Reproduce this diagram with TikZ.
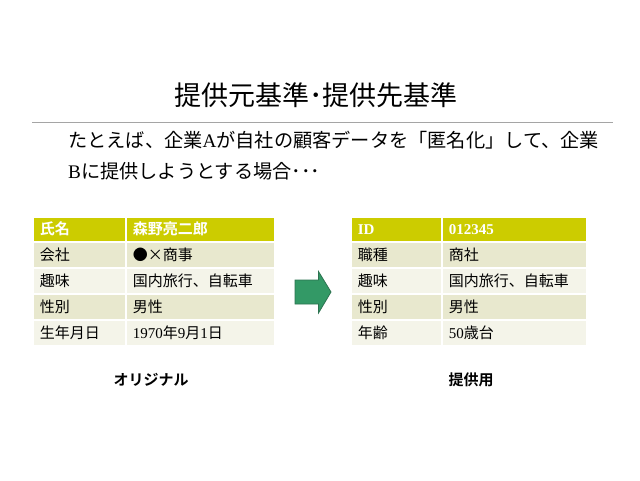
\documentclass[tikz,border=0pt]{standalone}
\usepackage{fontspec}
\setmainfont{Liberation Serif}
\newfontfamily\jp{Noto Sans CJK JP}[BoldFont={Noto Sans CJK JP Bold}]
\definecolor{hdr}{RGB}{204,204,0}
\definecolor{rowA}{RGB}{232,232,206}
\definecolor{rowB}{RGB}{244,244,233}
\definecolor{arrowfill}{RGB}{51,153,102}
\definecolor{arrowline}{RGB}{45,115,80}
\definecolor{rulegray}{RGB}{165,165,165}
\tikzset{
  cell/.style={anchor=north west, draw=white, line width=1.5pt, inner xsep=7pt, inner ysep=0pt,
    align=left, font=\fontsize{15}{18}\selectfont\jp},
  hcell/.style={cell, fill=hdr, text=white, minimum height=25pt, font=\fontsize{15}{18}\selectfont\bfseries\jp},
  acell/.style={cell, fill=rowA, minimum height=26pt},
  bcell/.style={cell, fill=rowB, minimum height=26pt},
  lk/.style={text width=79pt},
  lv/.style={text width=135pt},
  rk/.style={text width=77pt},
  rv/.style={text width=131pt},
  caption/.style={font=\fontsize{15}{18}\selectfont\bfseries\jp},
  bodytext/.style={anchor=west, inner sep=0pt, font=\fontsize{19.2}{24}\selectfont},
  bigarrow/.style={fill=arrowfill, draw=arrowline, line width=0.8pt, line join=miter}
}
\begin{document}
\begin{tikzpicture}[x=1pt,y=-1pt]
\useasboundingbox (0,0) rectangle (640,480);
\fill[white] (0,0) rectangle (640,480);
% title
\node (title) at (316,95) {\fontsize{27}{32}\selectfont\jp 提供元基準･提供先基準};
\coordinate (ruleL) at (32,122.5);
\coordinate (ruleR) at (613,122.5);
\draw[rulegray, line width=1.6pt] (ruleL) -- (ruleR);
% body
\node[bodytext] (body1) at (68,140) {{\jp たとえば、企業}A{\jp が自社の顧客データを「匿名化」して、企業}};
\node[bodytext] (body2) at (68,171) {B{\jp に提供しようとする場合･･･}};
% left table
\node[hcell, lk] (l1k) at (32,216) {氏名};
\node[hcell, lv] (l1v) at (125,216) {森野亮二郎};
\node[acell, lk] (l2k) at (32,241) {会社};
\node[acell, lv] (l2v) at (125,241) {●×商事};
\node[bcell, lk] (l3k) at (32,267) {趣味};
\node[bcell, lv] (l3v) at (125,267) {国内旅行、自転車};
\node[acell, lk] (l4k) at (32,293) {性別};
\node[acell, lv] (l4v) at (125,293) {男性};
\node[bcell, lk] (l5k) at (32,319) {生年月日};
\node[bcell, lv] (l5v) at (125,319) {{\rmfamily 1970}年{\rmfamily 9}月{\rmfamily 1}日};
% right table
\node[hcell, rk] (r1k) at (350,216) {\rmfamily\bfseries ID};
\node[hcell, rv] (r1v) at (441,216) {\rmfamily\bfseries 012345};
\node[acell, rk] (r2k) at (350,241) {職種};
\node[acell, rv] (r2v) at (441,241) {商社};
\node[bcell, rk] (r3k) at (350,267) {趣味};
\node[bcell, rv] (r3v) at (441,267) {国内旅行、自転車};
\node[acell, rk] (r4k) at (350,293) {性別};
\node[acell, rv] (r4v) at (441,293) {男性};
\node[bcell, rk] (r5k) at (350,319) {年齢};
\node[bcell, rv] (r5v) at (441,319) {{\rmfamily 50}歳台};
% arrow
\draw[bigarrow] (295,280) -- (318.5,280) -- (318.5,271.5) -- (331,292) -- (318.5,313) -- (318.5,304) -- (295,304) -- cycle;
% captions
\node[caption] (capL) at (151,380) {オリジナル};
\node[caption] (capR) at (471,380) {提供用};
\end{tikzpicture}
\end{document}
